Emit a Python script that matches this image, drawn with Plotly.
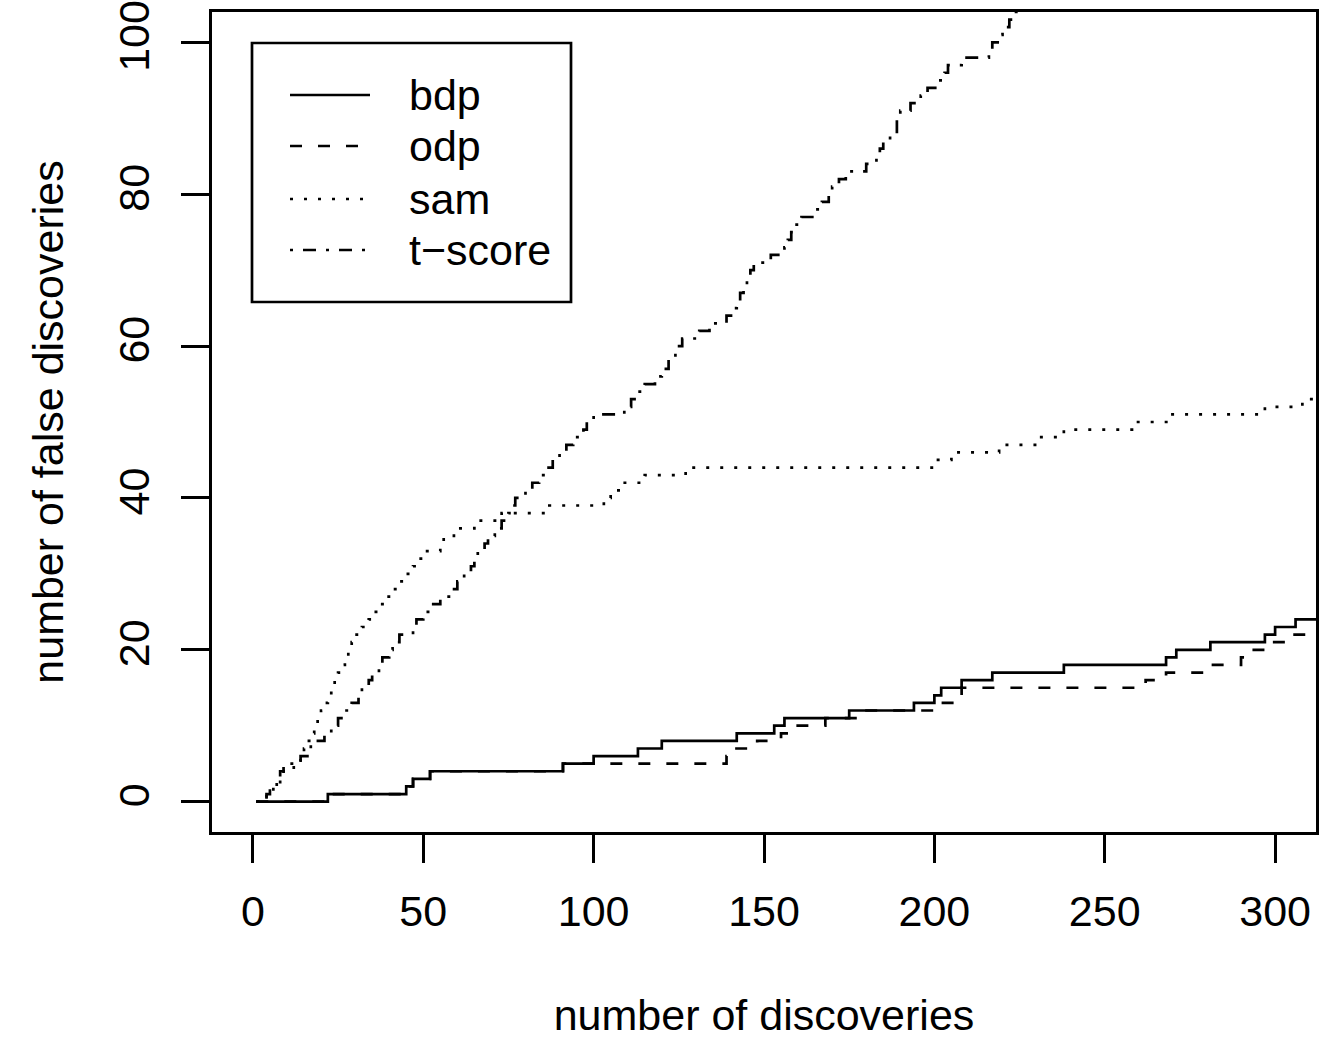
import plotly.graph_objects as go

# ---- data (step functions: x where the count changes, count from that x on) ----
bdp_x = [1, 22, 45, 47, 52, 91, 100, 113, 120, 142, 153, 156, 175, 194, 200, 202,
         208, 217, 238, 268, 271, 281, 297, 300, 306, 315]
bdp_y = [0, 1, 2, 3, 4, 5, 6, 7, 8, 9, 10, 11, 12, 13, 14, 15,
         16, 17, 18, 19, 20, 21, 22, 23, 24, 24]

odp_x = [1, 22, 45, 47, 52, 91, 139, 141, 148, 155, 159, 168, 179, 200, 207, 208,
         262, 268, 280, 290, 292, 298, 305, 315]
odp_y = [0, 1, 2, 3, 4, 5, 6, 7, 8, 9, 10, 11, 12, 13, 14, 15,
         16, 17, 18, 19, 20, 21, 22, 22]

sam_x = [1, 4, 6, 8, 9, 12, 14, 15, 16, 17, 18, 19, 20, 21, 22, 23, 24, 25, 26, 27,
         28, 29, 30, 32, 34, 35, 37, 39, 41, 43, 45, 47, 48, 50, 55, 56, 59, 65, 73,
         87, 103, 105, 108, 115, 127, 200, 205, 219, 230, 238, 258, 269, 297, 308, 315]
sam_y = [0, 1, 2, 3, 4, 5, 6, 7, 8, 9, 10, 11, 12, 13, 14, 15, 16, 17, 18, 19,
         20, 21, 22, 23, 24, 25, 26, 27, 28, 29, 30, 31, 32, 33, 34, 35, 36, 37, 38,
         39, 40, 41, 42, 43, 44, 45, 46, 47, 48, 49, 50, 51, 52, 53, 53]

tscore_x = [1, 4, 5, 7, 8, 9, 14, 16, 17, 21, 23, 25, 27, 29, 31, 32, 34, 35, 37, 38,
            40, 41, 43, 47, 48, 50, 52, 55, 58, 60, 62, 64, 65, 66, 68, 69, 71, 73,
            75, 76, 77, 80, 82, 84, 86, 88, 90, 92, 94, 97, 98, 100, 109, 111, 113,
            115, 118, 120, 122, 124, 126, 131, 134, 139, 141, 142, 143, 144, 145, 146,
            147, 152, 156, 157, 158, 159, 161, 165, 167, 169, 170, 172, 174, 180, 183,
            184, 185, 187, 189, 190, 193, 196, 198, 201, 203, 204, 208, 216, 217, 219,
            220, 222, 223, 225, 228]
tscore_y = [0, 1, 2, 3, 4, 5, 6, 7, 8, 9, 10, 11, 12, 13, 14, 15, 16, 17, 18, 19,
            20, 21, 22, 23, 24, 25, 26, 27, 28, 29, 30, 31, 32, 33, 34, 35, 36, 37,
            38, 39, 40, 41, 42, 43, 44, 45, 46, 47, 48, 49, 50, 51, 52, 53, 54,
            55, 56, 57, 58, 60, 61, 62, 63, 64, 65, 66, 67, 68, 69, 70,
            71, 72, 73, 74, 75, 76, 77, 78, 79, 80, 81, 82, 83, 84, 85,
            86, 87, 88, 90, 91, 92, 93, 94, 95, 96, 97, 98, 99, 100, 101,
            102, 103, 104, 106, 108]

series_names = ["bdp", "odp", "sam", "t\u2212score"]
x_ticks = [0, 50, 100, 150, 200, 250, 300]
y_ticks = [0, 20, 40, 60, 80, 100]

# ---- styling ----
FONT = "Liberation Sans, Arial, Helvetica, sans-serif"
FS = 43
LW = 2.7
dashes = ["solid", "12px,16px", "3px,11px", "3px,10px,13px,10px"]

W, H = 1331, 1039
ML, MR, MT, MB = 212, 15, 12, 207
PW, PH = W - ML - MR, H - MT - MB

fig = go.Figure()
for name, xs, ys, d in zip(series_names,
                           [bdp_x, odp_x, sam_x, tscore_x],
                           [bdp_y, odp_y, sam_y, tscore_y], dashes):
    fig.add_trace(go.Scatter(x=xs, y=ys, mode="lines", name=name,
                             line=dict(color="black", width=LW, dash=d, shape="hv"),
                             showlegend=False, hoverinfo="skip"))

def px2paper(px, py):
    return (px - ML) / PW, (H - MB - py) / PH

shapes = []
# legend box
x0, y0 = px2paper(252, 43)
x1, y1 = px2paper(571, 302)
shapes.append(dict(type="rect", xref="paper", yref="paper", x0=x0, y0=y1, x1=x1, y1=y0,
                   line=dict(color="black", width=LW), fillcolor="white", layer="above"))
annotations = []
rows = [95, 146, 199, 250]
for name, d, ry in zip(series_names, dashes, rows):
    a0, b0 = px2paper(290, ry)
    a1, _ = px2paper(370, ry)
    shapes.append(dict(type="line", xref="paper", yref="paper", x0=a0, y0=b0, x1=a1, y1=b0,
                       line=dict(color="black", width=LW, dash=d), layer="above"))
    tx, ty = px2paper(407, ry)
    annotations.append(dict(xref="paper", yref="paper", x=tx, y=ty, text=name,
                            showarrow=False, xanchor="left", yanchor="middle",
                            font=dict(family=FONT, size=FS, color="black")))

fig.update_layout(
    width=W, height=H,
    margin=dict(l=ML, r=MR, t=MT, b=MB, pad=0, autoexpand=False),
    paper_bgcolor="white", plot_bgcolor="white",
    font=dict(family=FONT, size=FS, color="black"),
    shapes=shapes, annotations=annotations,
    showlegend=False,
)
fig.update_xaxes(range=[-12, 312], tickvals=x_ticks, ticktext=[str(v) for v in x_ticks],
                 automargin=False,
                 showgrid=False, zeroline=False, showline=True, mirror=True,
                 linecolor="black", linewidth=LW, ticks="outside", ticklen=28,
                 tickwidth=LW, tickcolor="black", ticklabelstandoff=12,
                 title=dict(text="number of discoveries", standoff=66,
                            font=dict(family=FONT, size=FS)))
fig.update_yaxes(range=[-4, 104], tickvals=y_ticks, ticktext=[str(v) for v in y_ticks],
                 tickangle=-90, automargin=False,
                 showgrid=False, zeroline=False, showline=True, mirror=True,
                 linecolor="black", linewidth=LW, ticks="outside", ticklen=28,
                 tickwidth=LW, tickcolor="black", ticklabelstandoff=15,
                 title=dict(text="number of false discoveries", standoff=33,
                            font=dict(family=FONT, size=FS)))

fig.write_html("out.html")
